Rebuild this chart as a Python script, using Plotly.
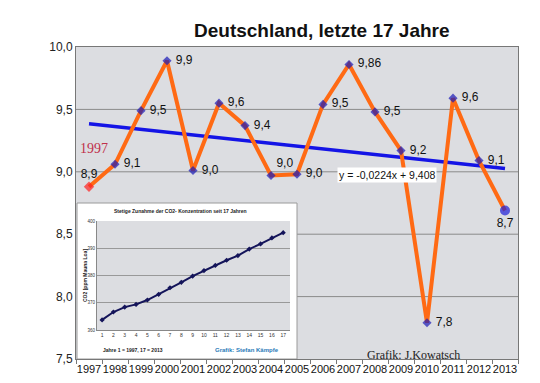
import plotly.graph_objects as go

years = [str(y) for y in range(1997, 2014)]
temps = [8.88, 9.06, 9.49, 9.89, 9.01, 9.55, 9.37, 8.97, 8.98, 9.54, 9.86, 9.48, 9.17, 7.79, 9.59, 9.09, 8.69]
temp_labels = ["8,9", "9,1", "9,5", "9,9", "9,0", "9,6", "9,4", "9,0", "9,0", "9,5", "9,86", "9,5", "9,2", "7,8", "9,6", "9,1", "8,7"]
label_pos = ["top center", "middle right", "middle right", "middle right", "middle right", "middle right",
             "middle right", "top right", "middle right", "middle right", "middle right", "middle right",
             "middle right", "middle right", "middle right", "middle right", "bottom center"]
trend_slope = -0.0224
trend_intercept = 9.408
trend_text = "y = -0,0224x + 9,408"

co2_x = list(range(1, 18))
co2 = [363.7, 366.6, 368.4, 369.4, 371.0, 373.1, 375.5, 377.5, 379.8, 381.8, 383.7, 385.6, 387.3, 389.7, 391.6, 393.8, 395.7]

y_ticks = [7.5, 8.0, 8.5, 9.0, 9.5, 10.0]
y_ticktext = ["7,5", "8,0", "8,5", "9,0", "9,5", "10,0"]

FONT = "Liberation Sans, Arial, sans-serif"
SERIF = "Liberation Serif, Times New Roman, serif"

# page offset from default body margin (8px)
OFF = 8
L, R, T, B = 76 - OFF, 22, 47 - OFF, 24
PW = 540 - 76 - 22
PH = 359 - 47

fig = go.Figure()

tx = [years[0], years[-1]]
ty = [trend_slope * 1 + trend_intercept, trend_slope * 17 + trend_intercept]
fig.add_trace(go.Scatter(x=tx, y=ty, mode="lines", line=dict(color="#1414e6", width=3.5),
                         hoverinfo="skip", showlegend=False))

shown_labels = [("\u00a0" + t) if p == "middle right" else t for t, p in zip(temp_labels, label_pos)]
colors = ["#ff2020"] + ["#1a1ab8"] * 15 + ["#1e1ed8"]
symbols = ["diamond"] + ["diamond"] * 15 + ["circle"]
sizes = [8] + [7] * 15 + [10]
fig.add_trace(go.Scatter(x=years, y=temps, mode="lines+markers+text",
                         line=dict(color="#ff6a14", width=4),
                         marker=dict(color=colors, symbol=symbols, size=sizes, line=dict(width=0)),
                         text=shown_labels, textposition=label_pos,
                         textfont=dict(family=FONT, size=12, color="#111"),
                         showlegend=False))

fig.add_trace(go.Scatter(x=co2_x, y=co2, mode="lines+markers", xaxis="x2", yaxis="y2",
                         line=dict(color="#14145a", width=2),
                         marker=dict(color="#14145a", symbol="diamond", size=4),
                         showlegend=False))


def px_x(x):
    return (x - 76) / PW


def px_y(y):
    return (359 - y) / PH


shapes = []
inset_right = px_x(297)
for v in [9.5, 9.0]:
    shapes.append(dict(type="line", xref="paper", yref="y", x0=0, x1=1, y0=v, y1=v,
                       line=dict(color="#8a8a8a", width=1), layer="below"))
for v in [8.5, 8.0]:
    shapes.append(dict(type="line", xref="paper", yref="y", x0=inset_right, x1=1, y0=v, y1=v,
                       line=dict(color="#8a8a8a", width=1), layer="below"))
shapes.append(dict(type="rect", xref="paper", yref="paper", x0=px_x(77), x1=inset_right,
                   y0=0.0, y1=px_y(203),
                   fillcolor="white", line=dict(color="#9a9a9a", width=1), layer="below"))


def note(text, x, y, size, family=FONT, color="#222", **kw):
    return dict(text=text, x=px_x(x), y=px_y(y), xref="paper", yref="paper",
                xanchor="center", yanchor="middle", showarrow=False,
                font=dict(family=family, size=size, color=color), **kw)


annotations = [
    note("<b>Deutschland, letzte 17 Jahre</b>", 322, 31, 19, color="#111"),
    note("1997", 94, 148, 14, family=SERIF, color="#c0304a"),
    note(trend_text, 387, 175, 10.5, color="#111", bgcolor="white", borderpad=1),
    note("Grafik: J.Kowatsch", 413, 355, 12, family=SERIF),
    note("<b>Stetige Zunahme der CO2- Konzentration seit 17 Jahren</b>", 180, 211, 5),
    note("<b>CO2 [ppm Mauna Loa]</b>", 85, 276, 5, textangle=-90),
    note("<b>Jahre 1 = 1997, 17 = 2013</b>", 133, 350, 5),
    note("<b>Grafik: Stefan Kämpfe</b>", 247, 350, 6, color="#2a7ab8"),
]

fig.update_layout(
    width=540 - OFF, height=383 - OFF,
    margin=dict(l=L, r=R, t=T, b=B, autoexpand=False),
    paper_bgcolor="white",
    plot_bgcolor="#dcdde1",
    xaxis=dict(type="category", categoryorder="array", categoryarray=years,
               range=[-0.5, 16.5], showgrid=False, ticks="outside", tickson="boundaries",
               ticklen=4, tickcolor="#777", showline=True, linecolor="#777", mirror=True,
               tickangle=0, automargin=False,
               tickfont=dict(family=FONT, size=11, color="#111")),
    yaxis=dict(range=[7.5, 10.0], tickvals=y_ticks, ticktext=y_ticktext, showgrid=False,
               showline=True, linecolor="#777", mirror=True, zeroline=False, automargin=False,
               tickfont=dict(family=FONT, size=12, color="#222")),
    xaxis2=dict(domain=[px_x(97), px_x(290)], anchor="y2", range=[0.55, 17.6], tickvals=co2_x,
                showgrid=False, zeroline=False, showline=True, linecolor="#888", automargin=False,
                tickfont=dict(family=FONT, size=5, color="#333"), ticklen=0),
    yaxis2=dict(domain=[px_y(330), px_y(221)], anchor="x2", range=[360, 400],
                tickvals=[360, 370, 380, 390, 400], showgrid=True, gridcolor="#999", gridwidth=0.6,
                zeroline=False, showline=True, linecolor="#888", automargin=False,
                tickfont=dict(family=FONT, size=4.5, color="#333")),
    shapes=shapes,
    annotations=annotations,
)

fig.write_html("out.html")
